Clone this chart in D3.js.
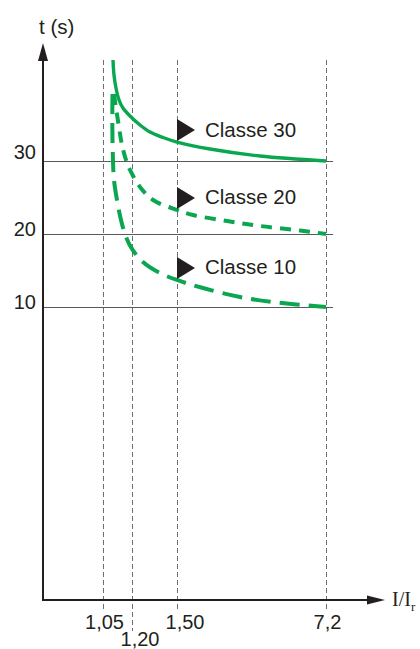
<!DOCTYPE html>
<html><head><meta charset="utf-8">
<script src="https://cdn.jsdelivr.net/npm/d3@7"></script>
<style>
html,body{margin:0;padding:0;background:#fff;}
svg{display:block;}
text{fill:#231f20;}
</style></head><body>
<svg id="chart" width="420" height="649"></svg>
<script>
// ---- data ----
const xTicks = [1.05, 1.20, 1.50, 7.2];
const xTickLabels = ["1,05", "1,20", "1,50", "7,2"];
const yTicks = [10, 20, 30];
const yTickLabels = ["10", "20", "30"];
const classNames = ["Classe 30", "Classe 20", "Classe 10"];
const markerI = 1.5;

const classe30I = [1.1017, 1.1069, 1.1172, 1.1328, 1.1534, 1.1897, 1.2533, 1.32, 1.4067, 1.5, 2.762, 4.675, 7.2];
const classe30T = [43.84, 41.78, 40.0, 38.36, 37.26, 36.16, 34.93, 33.97, 33.22, 32.6, 31.64, 30.68, 30.0];

const classe20I = [1.1069, 1.1172, 1.1302, 1.1483, 1.169, 1.1897, 1.2533, 1.3407, 1.5, 2.112, 3.413, 4.675, 6.205, 7.2];
const classe20T = [39.18, 37.26, 35.07, 32.19, 30.14, 28.77, 26.44, 24.66, 23.29, 22.6, 21.78, 21.10, 20.48, 20.0];

const classe10I = [1.0991, 1.0981, 1.1002, 1.1069, 1.1224, 1.1431, 1.169, 1.2, 1.2733, 1.3733, 1.5, 2.495, 3.91, 5.173, 7.2];
const classe10T = [39.18, 35.62, 31.51, 27.40, 24.66, 21.92, 19.59, 17.95, 16.16, 14.79, 13.70, 12.60, 11.37, 10.68, 10.0];

// ---- chart ----
const svg = d3.select("#chart");
const ink = "#231f20";
const green = "#0aa650";
const sans = "'Liberation Sans', Arial, Helvetica, sans-serif";
const serif = "'Liberation Serif', 'Times New Roman', serif";

const x = d3.scaleLinear().domain([1, 1.05, 1.2, 1.5, 7.2]).range([43, 103, 132, 177, 326]);
const y = d3.scaleLinear().domain([0, 10, 30]).range([600, 307, 161]);

const x0 = x(1), y0 = y(0);
const xEnd = 385, yEnd = 43;

// horizontal reference lines
svg.append("g").selectAll("line").data(yTicks).join("line")
  .attr("x1", x0).attr("x2", 333)
  .attr("y1", d => y(d) + 0.5).attr("y2", d => y(d) + 0.5)
  .attr("stroke", "#58595b").attr("stroke-width", 1.1);

// vertical dashed lines
svg.append("g").selectAll("line").data(xTicks).join("line")
  .attr("x1", d => x(d) + 0.5).attr("x2", d => x(d) + 0.5)
  .attr("y1", 60).attr("y2", d => d === 1.2 ? 631 : 611)
  .attr("stroke", "#6d6e71").attr("stroke-width", 1).attr("stroke-dasharray", "5,3");

// curves
const series = [
  {name: classNames[0], I: classe30I, T: classe30T, dash: null, w: 3.4},
  {name: classNames[1], I: classe20I, T: classe20T, dash: "11,8", w: 4},
  {name: classNames[2], I: classe10I, T: classe10T, dash: "20,9", w: 4}
];
const line = d3.line().x(d => x(d[0])).y(d => y(d[1])).curve(d3.curveCatmullRom.alpha(0.5));
series.forEach(s => {
  const pts = s.I.map((v, i) => [v, s.T[i]]);
  svg.append("path").attr("d", line(pts))
    .attr("fill", "none").attr("stroke", green).attr("stroke-width", s.w)
    .attr("stroke-dasharray", s.dash);
});

// markers + labels
series.forEach(s => {
  const idx = s.I.indexOf(markerI);
  const cy = y(s.T[idx]) - 12;
  const mx = x(markerI);
  svg.append("path")
    .attr("d", `M${mx},${cy - 11}L${mx + 18},${cy}L${mx},${cy + 11}Z`)
    .attr("fill", ink);
  svg.append("text").attr("x", mx + 28).attr("y", cy + 6.5)
    .style("font-family", sans).style("font-size", "20.5px").text(s.name);
});

// axes lines
svg.append("line").attr("x1", x0).attr("x2", xEnd - 14).attr("y1", y0).attr("y2", y0)
  .attr("stroke", ink).attr("stroke-width", 2);
svg.append("line").attr("x1", x0).attr("x2", x0).attr("y1", y0 + 1).attr("y2", yEnd + 14)
  .attr("stroke", ink).attr("stroke-width", 2);
svg.append("path").attr("d", `M${xEnd},${y0}L${xEnd - 18},${y0 - 4.5}L${xEnd - 18},${y0 + 4.5}Z`).attr("fill", ink);
svg.append("path").attr("d", `M${x0},${yEnd}L${x0 - 5},${yEnd + 18}L${x0 + 5},${yEnd + 18}Z`).attr("fill", ink);

// x tick labels via axis
const xAxis = d3.axisBottom(x).tickValues(xTicks).tickSize(0)
  .tickFormat((d, i) => xTickLabels[i]);
const gx = svg.append("g").attr("transform", `translate(0,${y0})`).call(xAxis);
gx.select(".domain").remove();
gx.selectAll("text")
  .style("font-size", "20px").style("font-family", sans).attr("fill", ink)
  .attr("dy", null)
  .attr("y", d => d === 1.2 ? 45.5 : 29)
  .attr("dx", d => d === 1.2 || d === 1.5 ? 7.5 : 1);

// y tick labels via axis
const yAxis = d3.axisLeft(y).tickValues(yTicks).tickSize(0)
  .tickFormat((d, i) => yTickLabels[i]);
const gy = svg.append("g").attr("transform", `translate(${x0},0)`).call(yAxis);
gy.select(".domain").remove();
gy.selectAll("text")
  .style("font-size", "20px").style("font-family", sans).attr("fill", ink)
  .attr("x", -7)
  .attr("dy", d => d === 30 ? "-3" : "1.5");

// axis titles
svg.append("text").attr("x", 39).attr("y", 34)
  .style("font-family", sans).style("font-size", "20.5px").text("t (s)");
const xt = svg.append("text").attr("x", 392).attr("y", 606)
  .style("font-family", serif).style("font-size", "20px");
xt.append("tspan").text("I/I");
xt.append("tspan").style("font-size", "13px").attr("dy", 5).text("r");
</script>
</body></html>
